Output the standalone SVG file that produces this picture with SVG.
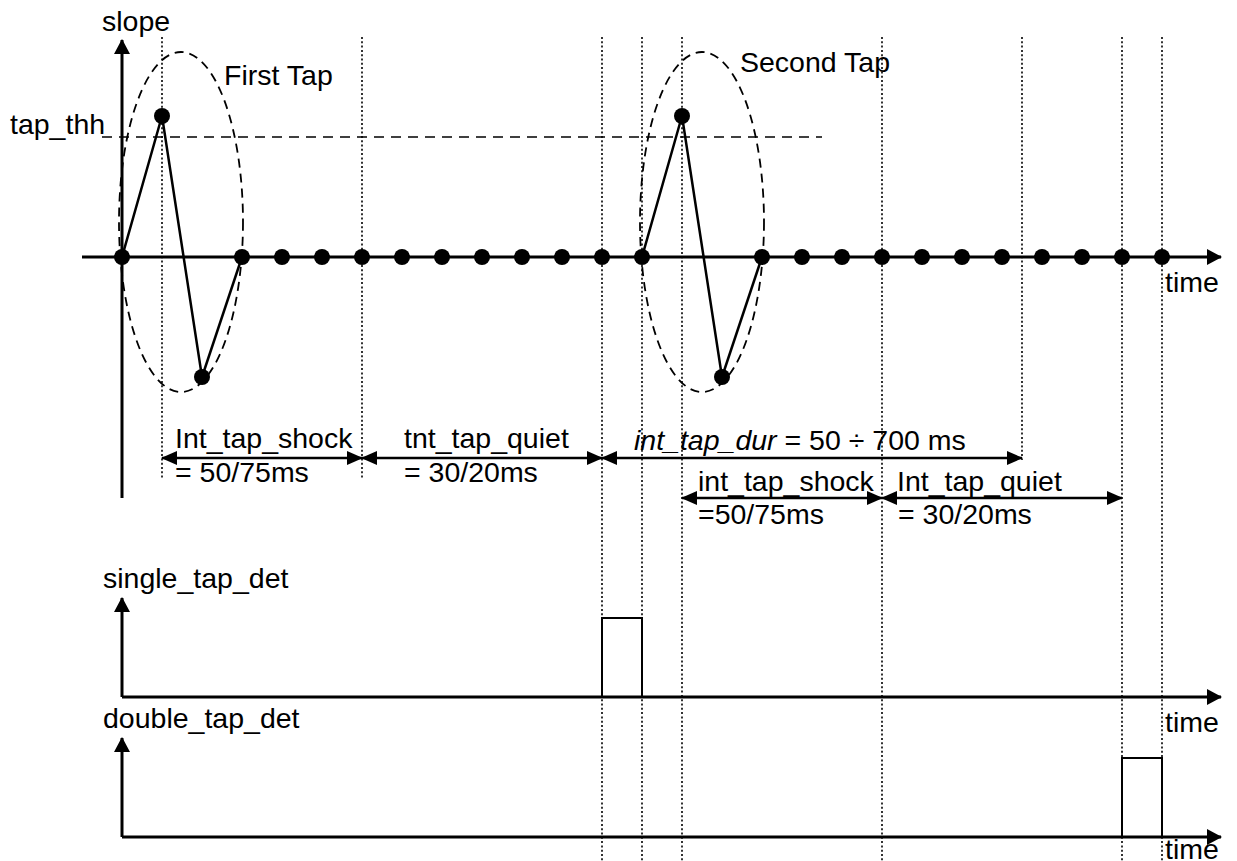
<svg xmlns="http://www.w3.org/2000/svg" width="1237" height="861" viewBox="0 0 1237 861">
<style>
text{font-family:"Liberation Sans",Arial,sans-serif;font-size:28.5px;fill:#000}
.ax{stroke:#000;stroke-width:3;fill:none}
.wave{stroke:#000;stroke-width:2.5;fill:none}
.dot{stroke:#000;stroke-width:1.6;stroke-dasharray:2,2.3;fill:none}
.dash{stroke:#000;stroke-width:1.6;stroke-dasharray:10,7;fill:none}
.ell{stroke:#000;stroke-width:1.8;stroke-dasharray:9,6;fill:none}
.dim{stroke:#000;stroke-width:2.5;fill:none}
.pulse{stroke:#000;stroke-width:2;fill:none}
</style>
<defs>
<marker id="ah" viewBox="0 0 16 14" refX="15" refY="7" markerWidth="16" markerHeight="14" markerUnits="userSpaceOnUse" orient="auto-start-reverse"><path d="M0,0 L16,7 L0,14 Z" fill="#000"/></marker>
<marker id="ax" viewBox="0 0 15 16" refX="14" refY="8" markerWidth="15" markerHeight="16" markerUnits="userSpaceOnUse" orient="auto"><path d="M0,0 L15,8 L0,16 Z" fill="#000"/></marker>
</defs>
<g id="gridlines">
<line class="dot" x1="162" y1="37" x2="162" y2="480"/>
<line class="dot" x1="362" y1="37" x2="362" y2="480"/>
<line class="dot" x1="602" y1="37" x2="602" y2="861"/>
<line class="dot" x1="642" y1="37" x2="642" y2="861"/>
<line class="dot" x1="682" y1="37" x2="682" y2="861"/>
<line class="dot" x1="882" y1="37" x2="882" y2="861"/>
<line class="dot" x1="1022" y1="37" x2="1022" y2="460"/>
<line class="dot" x1="1122" y1="37" x2="1122" y2="861"/>
<line class="dot" x1="1162" y1="37" x2="1162" y2="861"/>
</g>
<g id="slope-plot">
<line class="ax" x1="122" y1="498" x2="122" y2="40" marker-end="url(#ax)"/>
<line class="ax" x1="82" y1="257" x2="1221" y2="257" marker-end="url(#ax)"/>
<line class="dash" x1="102" y1="137" x2="822" y2="137"/>
<polyline class="wave" points="122,257 162,116 202,377 242,257"/>
<polyline class="wave" points="642,257 682,116 722,377 762,257"/>
<g fill="#000">
<circle cx="162" cy="116" r="8"/><circle cx="202" cy="377" r="8"/>
<circle cx="682" cy="116" r="8"/><circle cx="722" cy="377" r="8"/>
<circle cx="122" cy="257" r="8"/><circle cx="242" cy="257" r="8"/><circle cx="282" cy="257" r="8"/><circle cx="322" cy="257" r="8"/><circle cx="362" cy="257" r="8"/><circle cx="402" cy="257" r="8"/><circle cx="442" cy="257" r="8"/><circle cx="482" cy="257" r="8"/><circle cx="522" cy="257" r="8"/><circle cx="562" cy="257" r="8"/><circle cx="602" cy="257" r="8"/><circle cx="642" cy="257" r="8"/><circle cx="762" cy="257" r="8"/><circle cx="802" cy="257" r="8"/><circle cx="842" cy="257" r="8"/><circle cx="882" cy="257" r="8"/><circle cx="922" cy="257" r="8"/><circle cx="962" cy="257" r="8"/><circle cx="1002" cy="257" r="8"/><circle cx="1042" cy="257" r="8"/><circle cx="1082" cy="257" r="8"/><circle cx="1122" cy="257" r="8"/><circle cx="1162" cy="257" r="8"/>
</g>
<text x="102" y="31">slope</text>
<text x="10" y="134">tap_thh</text>
<text x="1165" y="292">time</text>
</g>
<g id="first-tap">
<ellipse class="ell" cx="181" cy="222" rx="62" ry="170"/>
<text x="224" y="85">First Tap</text>
</g>
<g id="second-tap">
<ellipse class="ell" cx="702" cy="222" rx="62" ry="170"/>
<text x="740" y="72">Second Tap</text>
</g>
<g id="connectors">
<line class="dim" x1="162" y1="458" x2="362" y2="458" marker-start="url(#ah)" marker-end="url(#ah)"/>
<line class="dim" x1="362" y1="458" x2="602" y2="458" marker-start="url(#ah)" marker-end="url(#ah)"/>
<line class="dim" x1="602" y1="458" x2="1022" y2="458" marker-start="url(#ah)" marker-end="url(#ah)"/>
<line class="dim" x1="682" y1="498" x2="882" y2="498" marker-start="url(#ah)" marker-end="url(#ah)"/>
<line class="dim" x1="882" y1="498" x2="1122" y2="498" marker-start="url(#ah)" marker-end="url(#ah)"/>
</g>
<g id="labels">
<text x="175" y="448">Int_tap_shock</text>
<text x="175" y="482">= 50/75ms</text>
<text x="404" y="448">tnt_tap_quiet</text>
<text x="404" y="482">= 30/20ms</text>
<text x="634" y="450"><tspan font-style="italic">int_tap_dur</tspan> = 50 ÷ 700 ms</text>
<text x="698" y="491">int_tap_shock</text>
<text x="698" y="524">=50/75ms</text>
<text x="897" y="491">Int_tap_quiet</text>
<text x="898" y="524">= 30/20ms</text>
</g>
<g id="single-tap-plot">
<line class="ax" x1="122" y1="697" x2="122" y2="598" marker-end="url(#ax)"/>
<line class="ax" x1="122" y1="697" x2="1221" y2="697" marker-end="url(#ax)"/>
<polyline class="pulse" points="602,697 602,618 642,618 642,697"/>
<text x="103" y="588">single_tap_det</text>
<text x="1165" y="732">time</text>
</g>
<g id="double-tap-plot">
<line class="ax" x1="122" y1="837" x2="122" y2="738" marker-end="url(#ax)"/>
<line class="ax" x1="122" y1="837" x2="1221" y2="837" marker-end="url(#ax)"/>
<polyline class="pulse" points="1122,837 1122,758 1162,758 1162,837"/>
<text x="103" y="728">double_tap_det</text>
<text x="1165" y="859">time</text>
</g>
</svg>
